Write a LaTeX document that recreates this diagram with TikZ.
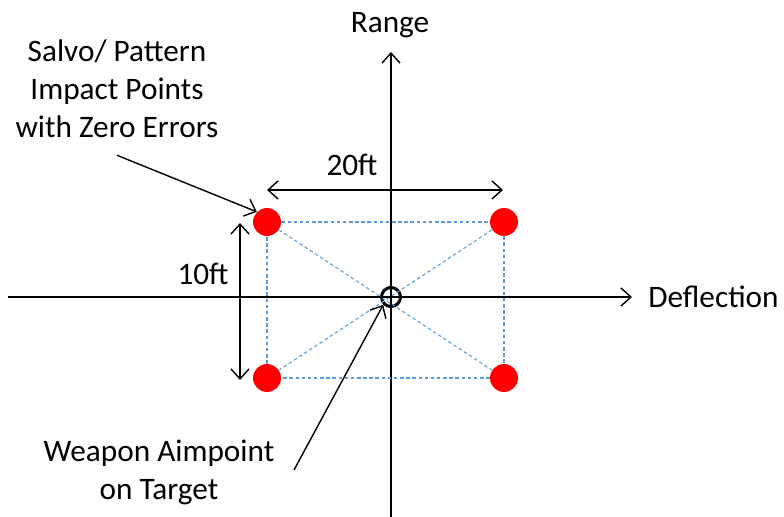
\documentclass[tikz,border=0pt]{standalone}
\usepackage{fontspec}
\setmainfont{Carlito}
\usetikzlibrary{arrows.meta}
\definecolor{bleupointille}{RGB}{91,155,213}

\begin{document}
\begin{tikzpicture}[x=0.02cm,y=-0.02cm,
	>={Straight Barb[length=2mm,width=3.6mm]},
	fleche/.style={->,line width=0.8pt},
	cote/.style={<->,line width=0.8pt},
	impact/.style={circle,fill=red,inner sep=0pt,minimum size=0.56cm},
	pointille/.style={draw=bleupointille,dash pattern=on 2pt off 1.5pt,line width=0.6pt},
	texte/.style={font=\fontsize{17.8}{21.6}\selectfont,align=center,inner sep=0pt}]
	\useasboundingbox (0,0) rectangle (784,517);
	
	% Définition des noeuds
	\node[impact] (HG) at (267,222) {};
	\node[impact] (HD) at (504,222) {};
	\node[impact] (BG) at (267,378) {};
	\node[impact] (BD) at (504,378) {};
	\node[circle,draw,line width=1.7pt,minimum size=0.38cm,inner sep=0pt] (O) at (391,297) {};
	
	\node[texte] (range) at (390,25) {Range};
	\node[texte,anchor=base west] (deflection) at (648,307) {Deflection};
	\node[texte,anchor=base] (vingt) at (352,175) {20ft};
	\node[texte,anchor=base] (dix) at (203,284) {10ft};
	\node[texte] (salvo) at (117,89) {Salvo/ Pattern\\Impact Points\\with Zero Errors};
	\node[texte] (arme) at (159,472) {Weapon Aimpoint\\on Target};
	
	% Définition des axes
	\coordinate (gauche) at (8,297);
	\coordinate (droite) at (632,297);
	\coordinate (bas) at (391,517);
	\coordinate (haut) at (391,52);
	\draw[fleche] (gauche) -- (droite);
	\draw[fleche] (bas) -- (haut);
	
	% Rectangle et diagonales
	\draw[pointille] (HG) -- (HD);
	\draw[pointille] (HD) -- (BD);
	\draw[pointille] (BD) -- (BG);
	\draw[pointille] (BG) -- (HG);
	\draw[pointille] (HG) -- (BD);
	\draw[pointille] (HD) -- (BG);
	
	% Réticule
	\draw[line width=1.7pt] ([xshift=-0.38cm]O.center) -- ([xshift=0.38cm]O.center);
	\draw[line width=1.7pt] ([yshift=0.36cm]O.center) -- ([yshift=-0.36cm]O.center);
	
	% Cotes
	\coordinate (c20g) at (267,190);
	\coordinate (c20d) at (503,190);
	\coordinate (c10h) at (240,223);
	\coordinate (c10b) at (240,380);
	\draw[cote] (c20g) -- (c20d);
	\draw[cote] (c10h) -- (c10b);
	
	% Flèches des légendes
	\coordinate (depart) at (294,470);
	\draw[fleche] ([yshift=-0.34cm]salvo.south) -- (HG.north west);
	\draw[fleche] (depart) -- (O.south west);
\end{tikzpicture}
\end{document}
